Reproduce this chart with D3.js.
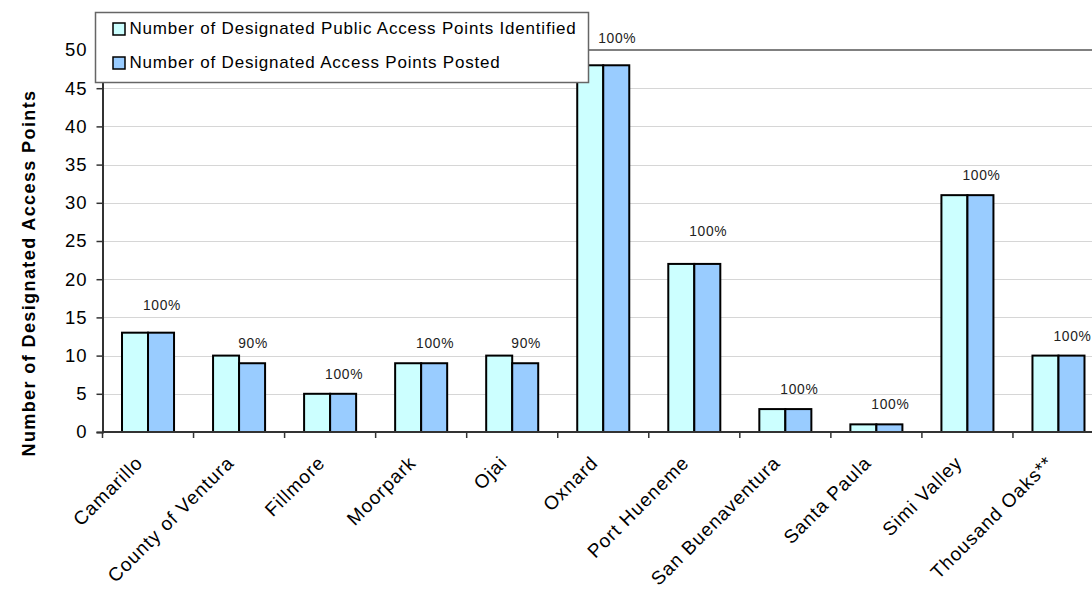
<!DOCTYPE html>
<html>
<head>
<meta charset="utf-8">
<script src="https://cdn.jsdelivr.net/npm/d3@7"></script>
<style>
  body { margin: 0; background: #fff; }
  svg { display: block; }
  text { font-family: "Liberation Sans", Arial, Helvetica, sans-serif; }
</style>
</head>
<body>
<svg id="chart" width="1092" height="590"></svg>
<script>
// ---- data ----
const categories = ["Camarillo", "County of Ventura", "Fillmore", "Moorpark", "Ojai", "Oxnard",
  "Port Hueneme", "San Buenaventura", "Santa Paula", "Simi Valley", "Thousand Oaks**"];
const identified = [13, 10, 5, 9, 10, 48, 22, 3, 1, 31, 10];
const posted     = [13,  9, 5, 9,  9, 48, 22, 3, 1, 31, 10];
const percentLabels = ["100%", "90%", "100%", "100%", "90%", "100%", "100%", "100%", "100%", "100%", "100%"];
const seriesNames = ["Number of Designated Public Access Points Identified",
  "Number of Designated Access Points Posted"];
const yTicks = [0, 5, 10, 15, 20, 25, 30, 35, 40, 45, 50];
const yTitle = "Number of Designated Access Points";

// ---- layout ----
const seriesFill = ["#CCFFFF", "#99CCFF"];
const labelLift = [23, 15, 15, 15, 15, 22, 28, 15, 15, 15, 15]; // px above the posted bar
const plot = { left: 102.5, right: 1104, top: 50, bottom: 432 };

const svg = d3.select("#chart");

const x = d3.scaleBand().domain(categories).range([plot.left, plot.right]).padding(0);
const y = d3.scaleLinear().domain([0, 50]).range([plot.bottom, plot.top]);
const barW = x.bandwidth() / 3.5;          // two bars plus a 150% gap
const sub = d3.scaleBand().domain([0, 1]).range([0, 2 * barW]);

// gridlines
svg.append("g").selectAll("line")
  .data(yTicks.filter(t => t > 0 && t < 50))
  .join("line")
  .attr("x1", plot.left).attr("x2", 1092)
  .attr("y1", d => Math.round(y(d)) + 0.5).attr("y2", d => Math.round(y(d)) + 0.5)
  .attr("stroke", "#d6d6d6").attr("stroke-width", 1);

// top border of plot area
svg.append("line")
  .attr("x1", plot.left).attr("x2", 1092)
  .attr("y1", y(50)).attr("y2", y(50))
  .attr("stroke", "#808080").attr("stroke-width", 2);

// bars
const groups = svg.append("g").selectAll("g")
  .data(categories)
  .join("g")
  .attr("transform", d => `translate(${x(d) + (x.bandwidth() - 2 * barW) / 2},0)`);

groups.selectAll("rect")
  .data((d, i) => [identified[i], posted[i]])
  .join("rect")
  .attr("x", (d, j) => sub(j))
  .attr("width", barW)
  .attr("y", d => y(d))
  .attr("height", d => y(0) - y(d))
  .attr("fill", (d, j) => seriesFill[j])
  .attr("stroke", "#000")
  .attr("stroke-width", 2);

// percentage labels over each pair
svg.append("g").selectAll("text")
  .data(categories)
  .join("text")
  .attr("x", (d, i) => x(d) + (x.bandwidth() - 2 * barW) / 2 + sub(1) + barW / 2 + 1)
  .attr("y", (d, i) => y(posted[i]) - labelLift[i])
  .attr("text-anchor", "middle")
  .attr("font-size", 13.8)
  .attr("letter-spacing", 0.7)
  .attr("fill", "#222")
  .text((d, i) => percentLabels[i]);

// y axis
const yAxis = svg.append("g")
  .attr("transform", `translate(${plot.left},0)`)
  .call(d3.axisLeft(y).tickValues(yTicks).tickSize(6).tickPadding(9).tickFormat(d3.format("d")));
yAxis.select(".domain").attr("stroke", "#333").attr("stroke-width", 2);
yAxis.selectAll(".tick line").attr("stroke", "#333").attr("stroke-width", 1.5);
yAxis.selectAll(".tick text")
  .attr("font-size", 18.5).attr("letter-spacing", 1).attr("fill", "#000")
  .attr("font-family", "'Liberation Sans', Arial, sans-serif");

// x axis: ticks on band edges
const xAxisG = svg.append("g").attr("transform", `translate(0,${plot.bottom})`);
xAxisG.append("line")
  .attr("x1", plot.left).attr("x2", 1092).attr("y1", 0).attr("y2", 0)
  .attr("stroke", "#333").attr("stroke-width", 2);
xAxisG.selectAll("line.tk")
  .data(categories)
  .join("line").attr("class", "tk")
  .attr("x1", d => x(d)).attr("x2", d => x(d))
  .attr("y1", 0).attr("y2", 6)
  .attr("stroke", "#333").attr("stroke-width", 1.5);
xAxisG.selectAll("text")
  .data(categories)
  .join("text")
  .attr("transform", d => `translate(${x(d) + x.bandwidth() / 2 - 4},32) rotate(-45)`)
  .attr("text-anchor", "end")
  .attr("font-size", 19)
  .attr("letter-spacing", 1.0)
  .attr("fill", "#000")
  .text(d => d);

// y axis title
svg.append("text")
  .attr("transform", "translate(35,273) rotate(-90)")
  .attr("text-anchor", "middle")
  .attr("font-size", 18)
  .attr("font-weight", "bold")
  .attr("letter-spacing", 1.4)
  .attr("fill", "#000")
  .text(yTitle);

// legend
const legend = svg.append("g");
legend.append("rect")
  .attr("x", 95.5).attr("y", 12.5).attr("width", 493).attr("height", 70)
  .attr("fill", "#fff").attr("stroke", "#666").attr("stroke-width", 1.5);
const items = legend.selectAll("g.item")
  .data(seriesNames)
  .join("g").attr("class", "item")
  .attr("transform", (d, i) => `translate(113,${23 + i * 34})`);
items.append("rect")
  .attr("width", 12).attr("height", 12)
  .attr("fill", (d, i) => seriesFill[i])
  .attr("stroke", "#000").attr("stroke-width", 1.5);
items.append("text")
  .attr("x", 16.5).attr("y", 11)
  .attr("font-size", 17)
  .attr("letter-spacing", 0.8)
  .attr("fill", "#000")
  .text(d => d);
</script>
</body>
</html>
